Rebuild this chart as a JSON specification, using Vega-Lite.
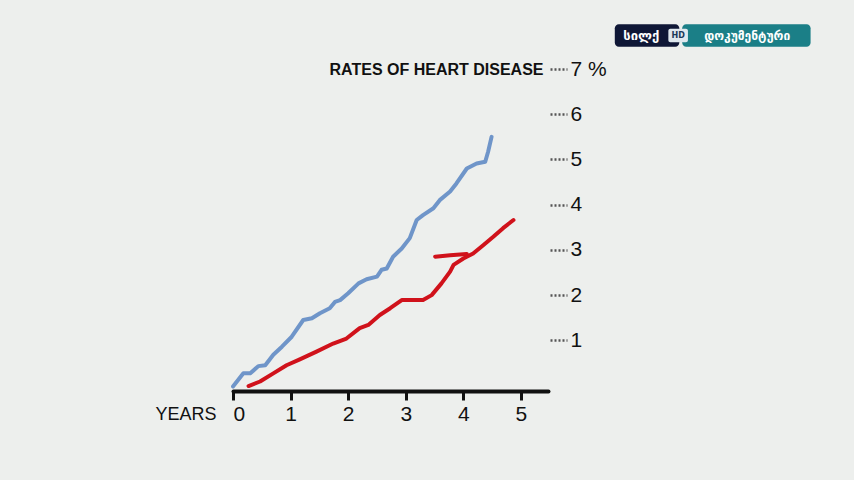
{
  "$schema": "https://vega.github.io/schema/vega-lite/v6.json",
  "width": 315,
  "height": 322,
  "autosize": {"type": "none"},
  "padding": {"left": 233, "top": 69, "right": 306, "bottom": 89},
  "background": "#edefed",
  "config": {
    "view": {"stroke": null},
    "font": "Liberation Sans, sans-serif"
  },
  "datasets": {
    "curves": [
      {"series": "A", "stroke": "A1", "year": 0.0, "rate": -0.02},
      {"series": "A", "stroke": "A1", "year": 0.18, "rate": 0.27},
      {"series": "A", "stroke": "A1", "year": 0.3, "rate": 0.27},
      {"series": "A", "stroke": "A1", "year": 0.44, "rate": 0.43},
      {"series": "A", "stroke": "A1", "year": 0.56, "rate": 0.45},
      {"series": "A", "stroke": "A1", "year": 0.7, "rate": 0.68},
      {"series": "A", "stroke": "A1", "year": 0.85, "rate": 0.86},
      {"series": "A", "stroke": "A1", "year": 1.02, "rate": 1.08},
      {"series": "A", "stroke": "A1", "year": 1.22, "rate": 1.45},
      {"series": "A", "stroke": "A1", "year": 1.37, "rate": 1.49},
      {"series": "A", "stroke": "A1", "year": 1.51, "rate": 1.6},
      {"series": "A", "stroke": "A1", "year": 1.68, "rate": 1.71},
      {"series": "A", "stroke": "A1", "year": 1.77, "rate": 1.85},
      {"series": "A", "stroke": "A1", "year": 1.86, "rate": 1.89},
      {"series": "A", "stroke": "A1", "year": 2.0, "rate": 2.04},
      {"series": "A", "stroke": "A1", "year": 2.18, "rate": 2.26},
      {"series": "A", "stroke": "A1", "year": 2.32, "rate": 2.35},
      {"series": "A", "stroke": "A1", "year": 2.5, "rate": 2.41},
      {"series": "A", "stroke": "A1", "year": 2.58, "rate": 2.56},
      {"series": "A", "stroke": "A1", "year": 2.67, "rate": 2.59},
      {"series": "A", "stroke": "A1", "year": 2.78, "rate": 2.85},
      {"series": "A", "stroke": "A1", "year": 2.93, "rate": 3.03},
      {"series": "A", "stroke": "A1", "year": 3.07, "rate": 3.26},
      {"series": "A", "stroke": "A1", "year": 3.19, "rate": 3.66},
      {"series": "A", "stroke": "A1", "year": 3.3, "rate": 3.77},
      {"series": "A", "stroke": "A1", "year": 3.48, "rate": 3.92},
      {"series": "A", "stroke": "A1", "year": 3.59, "rate": 4.1},
      {"series": "A", "stroke": "A1", "year": 3.77, "rate": 4.29},
      {"series": "A", "stroke": "A1", "year": 3.88, "rate": 4.47},
      {"series": "A", "stroke": "A1", "year": 4.06, "rate": 4.8},
      {"series": "A", "stroke": "A1", "year": 4.23, "rate": 4.91},
      {"series": "A", "stroke": "A1", "year": 4.38, "rate": 4.95},
      {"series": "A", "stroke": "A1", "year": 4.43, "rate": 5.17},
      {"series": "A", "stroke": "A1", "year": 4.49, "rate": 5.5},
      {"series": "B", "stroke": "B1", "year": 0.27, "rate": -0.01},
      {"series": "B", "stroke": "B1", "year": 0.47, "rate": 0.09},
      {"series": "B", "stroke": "B1", "year": 0.7, "rate": 0.27},
      {"series": "B", "stroke": "B1", "year": 0.93, "rate": 0.45},
      {"series": "B", "stroke": "B1", "year": 1.16, "rate": 0.58},
      {"series": "B", "stroke": "B1", "year": 1.45, "rate": 0.75},
      {"series": "B", "stroke": "B1", "year": 1.74, "rate": 0.93},
      {"series": "B", "stroke": "B1", "year": 1.97, "rate": 1.04},
      {"series": "B", "stroke": "B1", "year": 2.2, "rate": 1.27},
      {"series": "B", "stroke": "B1", "year": 2.35, "rate": 1.34},
      {"series": "B", "stroke": "B1", "year": 2.55, "rate": 1.56},
      {"series": "B", "stroke": "B1", "year": 2.73, "rate": 1.71},
      {"series": "B", "stroke": "B1", "year": 2.93, "rate": 1.89},
      {"series": "B", "stroke": "B1", "year": 3.1, "rate": 1.89},
      {"series": "B", "stroke": "B1", "year": 3.3, "rate": 1.89},
      {"series": "B", "stroke": "B1", "year": 3.45, "rate": 2.0},
      {"series": "B", "stroke": "B1", "year": 3.62, "rate": 2.26},
      {"series": "B", "stroke": "B1", "year": 3.77, "rate": 2.52},
      {"series": "B", "stroke": "B1", "year": 3.83, "rate": 2.67},
      {"series": "B", "stroke": "B1", "year": 4.0, "rate": 2.81},
      {"series": "B", "stroke": "B1", "year": 4.17, "rate": 2.92},
      {"series": "B", "stroke": "B1", "year": 4.35, "rate": 3.11},
      {"series": "B", "stroke": "B1", "year": 4.52, "rate": 3.29},
      {"series": "B", "stroke": "B1", "year": 4.69, "rate": 3.48},
      {"series": "B", "stroke": "B1", "year": 4.87, "rate": 3.66},
      {"series": "B", "stroke": "B2", "year": 3.51, "rate": 2.85},
      {"series": "B", "stroke": "B2", "year": 3.77, "rate": 2.88},
      {"series": "B", "stroke": "B2", "year": 4.06, "rate": 2.91}
    ]
  },
  "layer": [
    {
      "data": {"values": [{"part": "logo"}]},
      "mark": {"type": "rect", "color": "#0f1736", "cornerRadius": 4},
      "encoding": {
        "x": {"datum": 6.63, "type": "quantitative", "scale": {"domain": [0, 5.47]}},
        "x2": {"datum": 7.75},
        "y": {"datum": 7.99, "type": "quantitative", "scale": {"domain": [-0.12, 7]}},
        "y2": {"datum": 7.49}
      }
    },
    {
      "data": {"values": [{"part": "logo"}]},
      "mark": {"type": "rect", "color": "#1b7f87", "cornerRadius": 4},
      "encoding": {
        "x": {"datum": 7.8, "type": "quantitative"},
        "x2": {"datum": 10.03},
        "y": {"datum": 7.99, "type": "quantitative"},
        "y2": {"datum": 7.49}
      }
    },
    {
      "data": {"values": [{"part": "logo"}]},
      "mark": {"type": "rect", "color": "#dfe8ee", "cornerRadius": 2},
      "encoding": {
        "x": {"datum": 7.56, "type": "quantitative"},
        "x2": {"datum": 7.9},
        "y": {"datum": 7.89, "type": "quantitative"},
        "y2": {"datum": 7.59}
      }
    },
    {
      "data": {"values": [{"label": "სილქ"}]},
      "mark": {"type": "text", "color": "white", "font": "DejaVu Sans", "fontWeight": "bold", "fontSize": 13, "align": "center", "baseline": "middle"},
      "encoding": {
        "x": {"datum": 7.09, "type": "quantitative"},
        "y": {"datum": 7.74, "type": "quantitative"},
        "text": {"field": "label"}
      }
    },
    {
      "data": {"values": [{"label": "HD"}]},
      "mark": {"type": "text", "color": "#1b3a5a", "font": "DejaVu Sans", "fontWeight": "bold", "fontSize": 8, "align": "center", "baseline": "middle"},
      "encoding": {
        "x": {"datum": 7.73, "type": "quantitative"},
        "y": {"datum": 7.74, "type": "quantitative"},
        "text": {"field": "label"}
      }
    },
    {
      "data": {"values": [{"label": "დოკუმენტური"}]},
      "mark": {"type": "text", "color": "white", "font": "DejaVu Sans", "fontWeight": "bold", "fontSize": 12, "align": "center", "baseline": "middle"},
      "encoding": {
        "x": {"datum": 8.93, "type": "quantitative"},
        "y": {"datum": 7.74, "type": "quantitative"},
        "text": {"field": "label"}
      }
    },
    {
      "data": {"name": "curves"},
      "mark": {"type": "line", "strokeWidth": 4, "strokeCap": "round", "strokeJoin": "round"},
      "encoding": {
        "x": {
          "field": "year", "type": "quantitative",
          "scale": {"domain": [0, 5.47], "nice": false, "zero": false},
          "axis": {
            "orient": "bottom", "values": [0, 1, 2, 3, 4, 5], "format": "d", "grid": false,
            "domainColor": "#111", "domainWidth": 4, "domainCap": "round",
            "tickColor": "#111", "tickWidth": 3, "tickSize": 9,
            "labelFontSize": 21, "labelColor": "#111", "labelPadding": 3,
            "labelFont": "Liberation Sans, sans-serif",
            "title": "YEARS", "titleFontSize": 18, "titleFontWeight": "normal", "titleColor": "#111",
            "titleFont": "Liberation Sans, sans-serif",
            "titleAlign": "right", "titleBaseline": "middle", "titleX": -17, "titleY": 23
          }
        },
        "y": {
          "field": "rate", "type": "quantitative",
          "scale": {"domain": [-0.12, 7], "nice": false, "zero": false},
          "axis": {
            "orient": "right", "values": [1, 2, 3, 4, 5, 6, 7], "grid": false, "domain": false,
            "offset": 2, "tickColor": "#555", "tickWidth": 2.5, "tickSize": 17, "tickDash": [2, 2],
            "labelFontSize": 21, "labelColor": "#111", "labelPadding": 3,
            "labelFont": "Liberation Sans, sans-serif",
            "labelExpr": "datum.value == 7 ? '7 %' : datum.label",
            "title": "RATES OF HEART DISEASE", "titleAngle": 0, "titleFontSize": 16,
            "titleFontWeight": "bold", "titleColor": "#111",
            "titleFont": "Liberation Sans, sans-serif",
            "titleAlign": "right", "titleBaseline": "middle", "titleX": -7, "titleY": 0
          }
        },
        "color": {
          "field": "series", "type": "nominal",
          "scale": {"domain": ["A", "B"], "range": ["#6f95c9", "#d0121b"]},
          "legend": null
        },
        "detail": {"field": "stroke"}
      }
    }
  ]
}
